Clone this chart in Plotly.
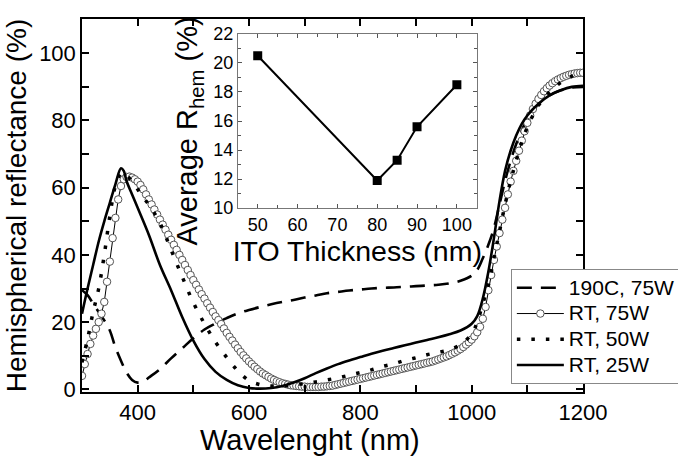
import numpy as np
import plotly.graph_objects as go

# ---- Hemispherical reflectance spectra (%), wavelength in nm ----
wl_190c = [300, 310, 320, 330, 340, 350, 360, 370, 380, 390, 400, 410, 420, 440, 460, 480,
           500, 520, 540, 560, 580, 600, 620, 640, 660, 680, 700, 720, 740, 760, 780, 800,
           820, 840, 860, 880, 900, 920, 940, 960, 980, 1000, 1010, 1020, 1030, 1040, 1050,
           1060, 1070, 1080, 1090, 1100, 1120, 1140, 1160, 1180, 1200]
r_190c = [29.5, 28, 25.5, 23, 20.5, 17.5, 12.5, 8.5, 5, 2.8, 2, 2.3, 3.5, 6, 9.2, 12.2,
          15.2, 17.8, 19.6, 21.2, 22.6, 23.6, 24.5, 25.3, 26, 26.6, 27.3, 27.9, 28.6, 29, 29.4, 29.7,
          30, 30.2, 30.3, 30.5, 30.7, 30.9, 31.1, 31.5, 32.3, 33.8, 35.5, 39, 43, 48, 55,
          62, 68, 73, 77, 80.5, 85, 87.5, 89, 89.8, 90]

wl_rt75 = list(range(300, 1205, 5))
r_rt75 = [
    4, 7.5, 10.5, 13.5, 16, 18, 20, 22.5, 26, 32,                     # 300-345
    38, 45, 51, 56.5, 60.5, 62.5, 63.2, 63.3, 63, 62.5,               # 350-395
    61.8, 60.8, 59.5, 58, 56.5, 55, 53.5, 52, 50.5, 49,               # 400-445
    47.5, 46, 44.5, 43, 41.5, 40, 38.5, 37, 35.5, 34,                 # 450-495
    32.5, 31.1, 29.7, 28.3, 27, 25.6, 24.3, 23, 21.7, 20.6,           # 500-545
    19.4, 18.1, 16.8, 15.6, 14.5, 13.3, 12.2, 11.1, 10.1, 9.2,        # 550-595
    8.3, 7.5, 6.7, 6, 5.3, 4.7, 4.2, 3.7, 3.2, 2.8,                   # 600-645
    2.4, 2.1, 1.8, 1.6, 1.4, 1.2, 1.1, 1, 0.9, 0.8,                   # 650-695
    0.8, 0.7, 0.7, 0.7, 0.7, 0.7, 0.8, 0.8, 0.9, 1,                   # 700-745
    1.1, 1.3, 1.5, 1.7, 1.9, 2.1, 2.3, 2.5, 2.7, 2.9,                 # 750-795
    3.1, 3.3, 3.5, 3.7, 3.9, 4.1, 4.3, 4.5, 4.7, 4.9,                 # 800-845
    5.1, 5.3, 5.5, 5.7, 5.9, 6.1, 6.3, 6.5, 6.7, 6.9,                 # 850-895
    7.1, 7.3, 7.5, 7.7, 7.9, 8.1, 8.3, 8.6, 8.9, 9.2,                 # 900-945
    9.5, 9.8, 10.2, 10.6, 11, 11.5, 12, 12.6, 13.3, 14,               # 950-995
    14.8, 15.8, 17, 18.6, 21, 24.5, 29.5, 34, 38.5, 42.5,             # 1000-1045
    46.5, 50.5, 54, 58, 61.8, 65, 68, 71, 74, 76.8,                   # 1050-1095
    79.3, 81.5, 83.4, 85, 86.4, 87.6, 88.7, 89.6, 90.4, 91.1,         # 1100-1145
    91.7, 92.2, 92.6, 93, 93.3, 93.6, 93.8, 94, 94.1, 94.2,           # 1150-1195
    94.2,                                                              # 1200
]

wl_rt50 = [300, 310, 320, 330, 340, 350, 360, 370, 375, 380, 390, 400, 410, 420, 440, 460,
           480, 500, 520, 540, 560, 580, 600, 620, 640, 660, 680, 700, 720, 740, 760, 780,
           800, 820, 840, 860, 880, 900, 920, 940, 960, 980, 1000, 1010, 1020, 1030, 1040,
           1050, 1060, 1070, 1080, 1090, 1100, 1120, 1140, 1160, 1180, 1200]
r_rt50 = [8, 15, 23, 30, 40, 51.5, 60.5, 64.3, 64.5, 63.8, 61.8, 59.5, 57, 55, 49.5, 41.5,
          33.5, 25.8, 19.5, 14, 9.5, 5.5, 2.6, 1.4, 1, 1, 1.3, 1.7, 2.2, 2.8, 3.4, 4.2,
          5, 5.8, 6.8, 7.6, 8.6, 9.4, 10.3, 11, 11.8, 13.3, 16.5, 20, 25.5, 31, 39,
          47, 55, 62, 68, 73.5, 78, 84.5, 88.5, 91.3, 93.2, 94.2]

wl_rt25 = [300, 310, 320, 330, 340, 350, 360, 370, 375, 380, 390, 400, 420, 440, 460, 480,
           500, 520, 540, 560, 580, 600, 620, 640, 660, 680, 700, 720, 740, 760, 780, 800,
           820, 840, 860, 880, 900, 920, 940, 960, 980, 1000, 1010, 1020, 1030, 1040, 1050,
           1060, 1070, 1080, 1090, 1100, 1120, 1140, 1160, 1180, 1200]
r_rt25 = [22.5, 30, 37, 44, 50, 55.5, 61, 65.8, 65, 62, 58, 54, 46, 37, 29.5, 21.5,
          14.5, 9, 5.2, 2.8, 1.2, 0.4, 0.2, 0.4, 1, 2, 3.3, 4.8, 6.2, 7.5, 8.6, 9.6,
          10.6, 11.5, 12.3, 13.1, 13.9, 14.7, 15.5, 16.4, 17.5, 19.5, 21.8, 27, 35, 45, 56,
          65, 71, 75.5, 79, 81.5, 85, 87.5, 89, 90, 90.3]

# ---- Inset: average hemispherical reflectance vs ITO thickness ----
ito_thickness = [50, 80, 85, 90, 100]
avg_r_hem = [20.5, 11.9, 13.3, 15.6, 18.5]

series_names = ["190C, 75W", "RT, 75W", "RT, 50W", "RT, 25W"]

FONT = "Arial, Liberation Sans, sans-serif"


def legend_label(text):
    # legend rows are packed with a small legend font; the label itself is larger
    return f"<span style='font-size:21px'>{text}</span>"


fig = go.Figure()

fig.add_trace(go.Scatter(
    x=wl_190c, y=r_190c, name=legend_label(series_names[0]), mode="lines", line_shape="spline",
    line=dict(color="black", width=2.6, dash="15px,9px")))
fig.add_trace(go.Scatter(
    x=wl_rt75, y=r_rt75, name=legend_label(series_names[1]), mode="lines+markers",
    line=dict(color="black", width=1),
    marker=dict(symbol="circle", size=7.5, color="white",
                line=dict(color="#555555", width=1))))
fig.add_trace(go.Scatter(
    x=wl_rt50, y=r_rt50, name=legend_label(series_names[2]), mode="lines", line_shape="spline",
    line=dict(color="black", width=3.5, dash="3.5px,11px")))
fig.add_trace(go.Scatter(
    x=wl_rt25, y=r_rt25, name=legend_label(series_names[3]), mode="lines", line_shape="spline",
    line=dict(color="black", width=2.6)))

fig.add_trace(go.Scatter(
    x=ito_thickness, y=avg_r_hem, xaxis="x2", yaxis="y2", mode="lines+markers",
    showlegend=False, line=dict(color="black", width=2),
    marker=dict(symbol="square", size=9, color="black")))

axis_common = dict(
    showline=True, linecolor="black", linewidth=1.5, mirror="allticks",
    ticks="inside", ticklen=7, tickwidth=1.5, tickcolor="black",
    showgrid=False, zeroline=False,
    tickfont=dict(family=FONT, size=22, color="black"),
)

inset_common = dict(
    showline=True, linecolor="#777777", linewidth=1, mirror="allticks",
    ticks="inside", ticklen=4, tickwidth=1, tickcolor="#555555",
    showgrid=False, zeroline=False,
    tickfont=dict(family=FONT, size=18, color="black"),
)

fig.update_layout(
    width=678, height=459,
    margin=dict(l=82, r=95, t=19, b=67, autoexpand=False),
    paper_bgcolor="white", plot_bgcolor="white",
    font=dict(family=FONT, color="black"),
    xaxis=dict(range=[300, 1200], dtick=200, tick0=0,
               minor=dict(dtick=100, ticks="inside", ticklen=7, tickwidth=1.5, tickcolor="black"),
               **axis_common),
    yaxis=dict(range=[-0.8, 110.2], dtick=20, tick0=0,
               minor=dict(dtick=10, ticks="inside", ticklen=7, tickwidth=1.5, tickcolor="black"),
               title=dict(text="Hemispherical reflectance (%)", font=dict(size=28), standoff=4),
               **axis_common),
    xaxis2=dict(domain=[0.311, 0.788], anchor="y2", range=[45, 105], dtick=10, tick0=0,
                minor=dict(dtick=5, ticks="inside", ticklen=3, tickcolor="#555555"),
                title=dict(text="ITO Thickness (nm)", font=dict(size=28.5), standoff=0),
                **inset_common),
    yaxis2=dict(domain=[0.493, 0.960], anchor="x2", range=[10, 22], dtick=2, tick0=0,
                minor=dict(dtick=1, ticks="inside", ticklen=3, tickcolor="#555555"),
                **inset_common),
    legend=dict(x=0.856, y=0.33, xanchor="left", yanchor="top",
                bgcolor="white", bordercolor="#888888", borderwidth=1,
                font=dict(family=FONT, size=17.5, color="black"),
                itemwidth=47, tracegroupgap=0),
    annotations=[
        dict(text="Wavelenght (nm)", xref="paper", yref="paper",
             x=0.455, y=-0.129, xanchor="center", yanchor="middle", showarrow=False,
             font=dict(family=FONT, size=29, color="black")),
        dict(text="Average R<sub>hem</sub> (%)", xref="paper", yref="paper",
             x=0.2135, y=0.701, xanchor="center", yanchor="middle",
             textangle=-90, showarrow=False,
             font=dict(family=FONT, size=29, color="black")),
    ],
)

fig.write_html("out.html")
